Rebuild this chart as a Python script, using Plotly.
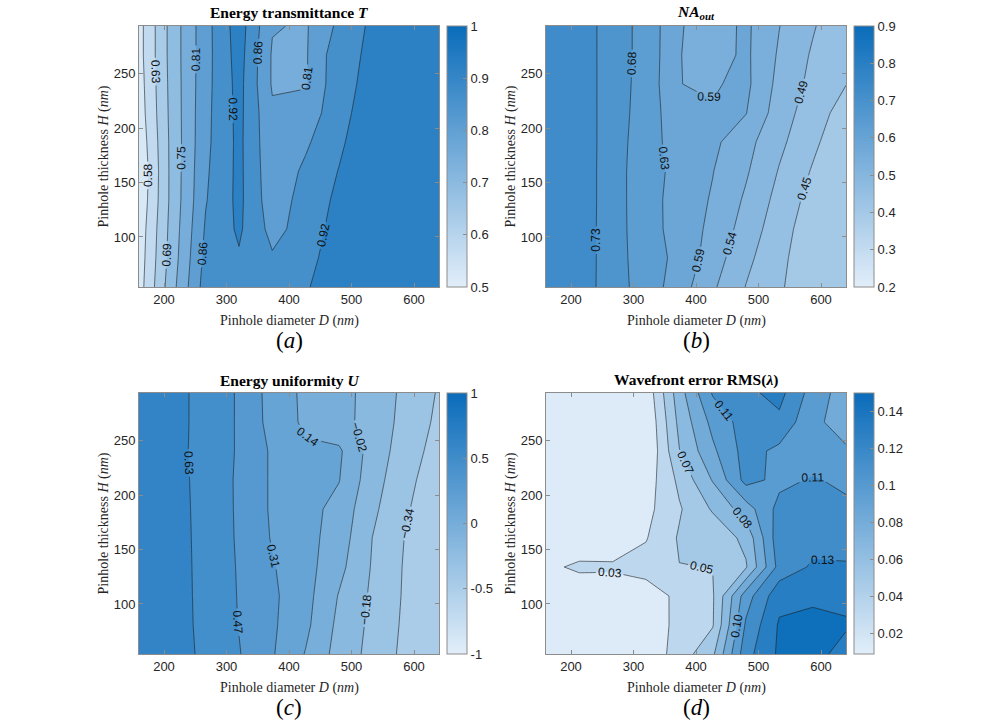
import plotly.graph_objects as go

# sweep grid: pinhole diameter D (columns) and thickness H (rows, bottom to top)
D_NM = [160, 213.3, 266.7, 320, 373.3, 426.7, 480, 533.3, 586.7, 640]
H_NM = [54, 80.7, 107.3, 134, 160.7, 187.3, 214, 240.7, 267.3, 294]

T_GRID = [
    [0.55, 0.73, 0.89, 0.90, 0.89, 0.915, 0.96, 0.965, 0.97, 0.972],
    [0.545, 0.72, 0.88, 0.915, 0.87, 0.905, 0.947, 0.965, 0.97, 0.972],
    [0.54, 0.715, 0.87, 0.93, 0.845, 0.888, 0.946, 0.965, 0.97, 0.97],
    [0.53, 0.71, 0.86, 0.935, 0.83, 0.887, 0.933, 0.965, 0.968, 0.968],
    [0.525, 0.71, 0.855, 0.935, 0.825, 0.874, 0.923, 0.965, 0.965, 0.965],
    [0.535, 0.71, 0.85, 0.935, 0.82, 0.855, 0.91, 0.968, 0.96, 0.962],
    [0.545, 0.712, 0.848, 0.937, 0.815, 0.835, 0.895, 0.964, 0.955, 0.958],
    [0.55, 0.714, 0.845, 0.94, 0.80, 0.80, 0.905, 0.935, 0.95, 0.955],
    [0.555, 0.716, 0.843, 0.945, 0.80, 0.80, 0.902, 0.931, 0.948, 0.952],
    [0.555, 0.716, 0.843, 0.95, 0.81, 0.80, 0.876, 0.933, 0.945, 0.95],
]

NA_GRID = [
    [0.765, 0.752, 0.70, 0.659, 0.609, 0.547, 0.492, 0.452, 0.42, 0.405],
    [0.765, 0.753, 0.70, 0.655, 0.621, 0.563, 0.505, 0.459, 0.415, 0.40],
    [0.765, 0.753, 0.70, 0.652, 0.615, 0.575, 0.52, 0.467, 0.42, 0.405],
    [0.765, 0.754, 0.70, 0.651, 0.615, 0.582, 0.533, 0.478, 0.43, 0.41],
    [0.765, 0.754, 0.70, 0.651, 0.62, 0.588, 0.5455, 0.4905, 0.443, 0.41],
    [0.765, 0.755, 0.70, 0.655, 0.61, 0.597, 0.5555, 0.504, 0.457, 0.412],
    [0.765, 0.755, 0.70, 0.66, 0.60, 0.59, 0.588, 0.516, 0.469, 0.427],
    [0.765, 0.755, 0.70, 0.663, 0.587, 0.582, 0.597, 0.526, 0.481, 0.448],
    [0.765, 0.755, 0.70, 0.665, 0.588, 0.567, 0.595, 0.534, 0.488, 0.45],
    [0.765, 0.755, 0.70, 0.665, 0.59, 0.565, 0.595, 0.541, 0.498, 0.456],
]

U_GRID = [
    [0.76, 0.70, 0.597, 0.477, 0.32, 0.135, -0.081, -0.23, -0.385, -0.48],
    [0.76, 0.70, 0.588, 0.463, 0.33, 0.18, -0.058, -0.218, -0.373, -0.48],
    [0.76, 0.70, 0.584, 0.459, 0.335, 0.198, -0.028, -0.207, -0.364, -0.48],
    [0.76, 0.70, 0.581, 0.455, 0.318, 0.204, 0.028, -0.193, -0.36, -0.48],
    [0.76, 0.70, 0.577, 0.449, 0.294, 0.202, 0.065, -0.181, -0.35, -0.48],
    [0.76, 0.695, 0.576, 0.446, 0.284, 0.203, 0.09, -0.146, -0.32, -0.48],
    [0.76, 0.69, 0.574, 0.445, 0.284, 0.213, 0.15, -0.114, -0.292, -0.446],
    [0.76, 0.685, 0.57, 0.452, 0.283, 0.17, 0.17, -0.089, -0.26, -0.409],
    [0.76, 0.687, 0.573, 0.451, 0.248, 0.113, 0.034, -0.076, -0.235, -0.377],
    [0.76, 0.687, 0.573, 0.451, 0.241, 0.109, 0.033, -0.070, -0.222, -0.357],
]

RMS_GRID = [
    [0.012, 0.013, 0.015, 0.022, 0.0398, 0.0624, 0.125, 0.15, 0.15, 0.144],
    [0.012, 0.013, 0.015, 0.024, 0.037, 0.048, 0.117, 0.149, 0.152, 0.148],
    [0.012, 0.013, 0.015, 0.025, 0.0366, 0.0475, 0.107, 0.142, 0.144, 0.145],
    [0.027, 0.038, 0.037, 0.039, 0.049, 0.0495, 0.064, 0.1205, 0.133, 0.132],
    [0.012, 0.013, 0.015, 0.032, 0.051, 0.054, 0.07, 0.125, 0.125, 0.126],
    [0.012, 0.013, 0.015, 0.028, 0.0476, 0.0674, 0.0903, 0.12, 0.12, 0.118],
    [0.012, 0.013, 0.014, 0.024, 0.053, 0.083, 0.12, 0.1102, 0.116, 0.111],
    [0.012, 0.013, 0.014, 0.016, 0.065, 0.095, 0.121, 0.1105, 0.105, 0.10],
    [0.012, 0.013, 0.014, 0.017, 0.070, 0.103, 0.122, 0.127, 0.1015, 0.092],
    [0.012, 0.013, 0.015, 0.021, 0.075, 0.116, 0.127, 0.136, 0.1076, 0.09],
]

# contour levels (labels show 2 decimals)
T_LEVELS = [0.576, 0.6335, 0.691, 0.7485, 0.806, 0.8635, 0.921]
NA_LEVELS = [0.447, 0.4935, 0.540, 0.5865, 0.633, 0.6795, 0.726]
U_LEVELS = [-0.342, -0.180, -0.018, 0.144, 0.306, 0.468, 0.630]
RMS_LEVELS = [0.033, 0.0493, 0.0656, 0.0819, 0.0982, 0.1145, 0.1308, 0.1471]

# colour limits of each colorbar
T_CLIM = [0.5, 1.0]
NA_CLIM = [0.2, 0.9]
U_CLIM = [-1.0, 1.0]
RMS_CLIM = [0.0088, 0.15]

LIGHT = (226, 238, 249)
DARK = (10, 108, 186)
SERIF = 'Liberation Serif, Times New Roman, serif'
SANS = 'Liberation Sans, Arial, sans-serif'
W, H = 997, 725


def fx(p):
    return p / W


def fy(p):
    return 1 - p / H


def cmap(t):
    t = min(max(t, 0), 1)
    return 'rgb(%d,%d,%d)' % tuple(round(a + (b - a) * t) for a, b in zip(LIGHT, DARK))


def band_scale(z, levels, clim):
    # matlab-like fill: each band takes the colour of its lower level
    lo = min(min(r) for r in z)
    vals = [lo] + levels
    n = len(levels)
    return [[k / n, cmap((v - clim[0]) / (clim[1] - clim[0]))] for k, v in enumerate(vals)]


fig = go.Figure()

panels = [
    # grid, levels, clim, axis suffix, cbar x (px), ticks
    (T_GRID, T_LEVELS, T_CLIM, '', 447, [0.5, 0.6, 0.7, 0.8, 0.9, 1]),
    (NA_GRID, NA_LEVELS, NA_CLIM, '2', 854, [0.2, 0.3, 0.4, 0.5, 0.6, 0.7, 0.8, 0.9]),
    (U_GRID, U_LEVELS, U_CLIM, '3', 447, [-1, -0.5, 0, 0.5, 1]),
    (RMS_GRID, RMS_LEVELS, RMS_CLIM, '4', 854, [0.02, 0.04, 0.06, 0.08, 0.1, 0.12, 0.14]),
]

# plot boxes in pixels
x_dom = {'': [139, 439], '2': [546, 846], '3': [139, 439], '4': [546, 846]}
y_dom = {'': [26, 287], '2': [26, 287], '3': [393, 654], '4': [393, 654]}

for z, levels, clim, s, cbx, cticks in panels:
    step = (levels[-1] - levels[0]) / (len(levels) - 1)
    fig.add_trace(go.Contour(
        x=D_NM, y=H_NM, z=z,
        xaxis='x' + s, yaxis='y' + s,
        colorscale=band_scale(z, levels, clim),
        showscale=False,
        autocontour=False,
        zmin=levels[0] - step, zmax=levels[-1] + step,
        contours=dict(start=levels[0], end=levels[-1], size=step,
                      coloring='fill', showlabels=True, labelformat='.2f',
                      labelfont=dict(family=SANS, size=12, color='#111111')),
        line=dict(color='#1e1e1e', width=0.6, smoothing=0),
        hoverinfo='skip'))

    y0, y1 = y_dom[s]
    fig.add_trace(go.Scatter(
        x=[None], y=[None], mode='markers', xaxis='x' + s, yaxis='y' + s,
        showlegend=False, hoverinfo='skip',
        marker=dict(color=[clim[0]], cmin=clim[0], cmax=clim[1],
                    colorscale=[[0, cmap(0)], [1, cmap(1)]], showscale=True,
                    colorbar=dict(x=fx(cbx), xanchor='left', xpad=0,
                                  y=fy((y0 + y1) / 2), yanchor='middle', ypad=0,
                                  len=(y1 - y0) / H, lenmode='fraction',
                                  thickness=20, thicknessmode='pixels',
                                  outlinecolor='#8c8c8c', outlinewidth=1,
                                  ticks='inside', ticklen=4, tickcolor='#8c8c8c',
                                  tickvals=cticks,
                                  ticktext=[('%g' % v) for v in cticks],
                                  tickfont=dict(family=SANS, size=13, color='#262626')))))

axis_style = dict(showline=True, linecolor='#8c8c8c', linewidth=1, mirror='ticks',
                  ticks='inside', ticklen=4, tickcolor='#8c8c8c', showgrid=False,
                  zeroline=False, tickfont=dict(family=SANS, size=13, color='#262626'))

layout = dict(width=W, height=H, margin=dict(l=0, r=0, t=0, b=0),
              paper_bgcolor='white', plot_bgcolor='white', showlegend=False)
for s in ['', '2', '3', '4']:
    xd, yd = x_dom[s], y_dom[s]
    layout['xaxis' + s] = dict(axis_style, domain=[fx(xd[0]), fx(xd[1])], range=[160, 640],
                               tickvals=[200, 300, 400, 500, 600], anchor='y' + s)
    layout['yaxis' + s] = dict(axis_style, domain=[fy(yd[1]), fy(yd[0])], range=[54, 294],
                               tickvals=[100, 150, 200, 250], anchor='x' + s)
fig.update_layout(layout)

titles = ['<b>Energy transmittance <i>T</i></b>',
          '<b><i>NA</i><sub><i>out</i></sub></b>',
          '<b>Energy uniformity <i>U</i></b>',
          '<b>Wavefront error RMS(<i>λ</i>)</b>']
captions = ['(<i>a</i>)', '(<i>b</i>)', '(<i>c</i>)', '(<i>d</i>)']
for k, s in enumerate(['', '2', '3', '4']):
    xd, yd = x_dom[s], y_dom[s]
    xc = (xd[0] + xd[1]) / 2
    fig.add_annotation(text=titles[k], x=fx(xc), y=fy(yd[0] - 13),
                       xref='paper', yref='paper', xanchor='center', yanchor='middle',
                       showarrow=False, font=dict(family=SERIF, size=15.5, color='black'))
    fig.add_annotation(text='Pinhole diameter <i>D</i> (<i>nm</i>)', x=fx(xc), y=fy(yd[1] + 34),
                       xref='paper', yref='paper', xanchor='center', yanchor='middle',
                       showarrow=False, font=dict(family=SERIF, size=14, color='#262626'))
    fig.add_annotation(text='Pinhole thickness <i>H</i> (<i>nm</i>)', x=fx(xd[0] - 36),
                       y=fy((yd[0] + yd[1]) / 2), xref='paper', yref='paper',
                       xanchor='center', yanchor='middle', textangle=-90, showarrow=False,
                       font=dict(family=SERIF, size=14, color='#262626'))
    fig.add_annotation(text=captions[k], x=fx(xc), y=fy(yd[1] + 53),
                       xref='paper', yref='paper', xanchor='center', yanchor='middle',
                       showarrow=False, font=dict(family=SERIF, size=23, color='black'))

# drop the default 8px page margin so the figure sits at the window corner
fig.write_html("out.html", config={'displayModeBar': False},
               post_script="document.body.style.margin='0';")
